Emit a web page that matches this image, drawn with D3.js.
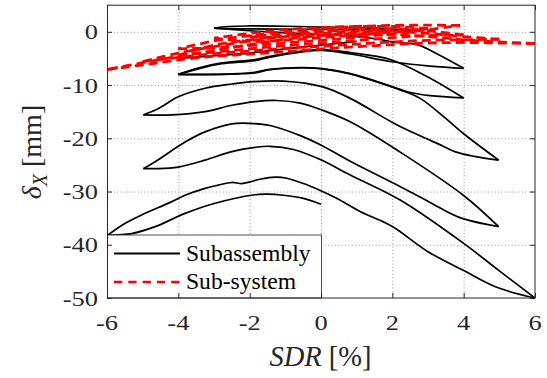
<!DOCTYPE html>
<html>
<head>
<meta charset="utf-8">
<script src="https://cdn.jsdelivr.net/npm/d3@7"></script>
<style>
  html, body { margin: 0; padding: 0; background: #fff; }
  svg { display: block; font-family: "Liberation Serif", "Times New Roman", serif; }
</style>
</head>
<body>
<svg id="chart" width="547" height="378"></svg>
<script>
// axis ticks
const xTicks = [-6, -4, -2, 0, 2, 4, 6];
const yTicks = [0, -10, -20, -30, -40, -50];

// Subassembly (black) branches, [SDR %, deltaX mm]
const subTopLoop = [[-3.0,0.7],[-2.6,1.0],[-2.0,1.1],[-1.0,1.05],[0,0.9],[1.0,0.75],[2.0,0.5],[2.8,0.2],
  [2.0,0.25],[1.0,0.35],[0,0.45],[-1.0,0.5],[-2.0,0.55],[-2.6,0.6],[-3.0,0.7]];
const subToR1 = [[-3.0,0.7],[-2.0,0.2],[-1.0,-0.2],[0,-0.5],[1.0,-0.9],[1.6,-1.4],[2.1,-2.0],[2.7,-2.4],[3.3,-4.3],[4.0,-6.86]];
const subMid = [[-4.0,-5.0],[-3.0,-4.5],[-2.0,-4.0],[-1.0,-3.2],[0,-2.5],[1.0,-1.8]];
const subR1Back = [[4.0,-6.86],[3.06,-6.43],[1.99,-5.62],[0.82,-4.17],[0.03,-3.5],[-0.58,-3.8],[-1.43,-4.74],
  [-1.85,-5.4],[-2.78,-6.0],[-3.44,-6.95],[-4.0,-8.0]];
const subToR2 = [[-4.0,-8.0],[-3.44,-6.8],[-2.78,-5.85],[-1.85,-5.2],[-1.43,-4.6],[-0.58,-3.65],[0.03,-3.35],
  [0.82,-3.9],[1.94,-5.2],[2.97,-8.4],[4.0,-12.45]];
const subR2Back = [[4.0,-12.4],[3.06,-12.0],[2.45,-11.3],[2.08,-10.5],[0.82,-7.9],[0.03,-6.95],[-0.58,-6.8],
  [-1.43,-7.1],[-1.85,-7.7],[-2.32,-7.9],[-3.25,-8.0],[-4.0,-8.0]];
const subToR5a = [[-4.0,-8.0],[-3.25,-8.05],[-2.32,-7.85],[-1.85,-7.6],[-1.43,-7.05],[-0.58,-6.7],[0.03,-6.9],
  [0.82,-7.85],[2.22,-10.9],[2.78,-12.5],[3.43,-15.9],[3.99,-19.1],[4.98,-24.1]];
const subR5aBack = [[4.98,-24.1],[4.3,-23.4],[3.75,-22.5],[3.3,-21.1],[2.9,-19.9],[2.08,-17.3],[0.82,-12.5],[0.03,-10.3],
  [-1.05,-9.25],[-1.99,-9.4],[-2.5,-9.8],[-3.25,-10.6],[-4.0,-12.2],[-4.56,-14.4],[-4.98,-15.6]];
const subToR5b = [[-4.98,-15.6],[-4.18,-15.6],[-3.25,-15.0],[-2.5,-13.8],[-1.85,-13.1],[-1.24,-12.9],[-0.58,-13.4],
  [0.03,-14.7],[0.82,-16.9],[2.22,-22.6],[3.99,-30.7],[4.98,-36.6]];
const subR5bBack = [[4.98,-36.6],[3.86,-34.8],[3.02,-31.9],[2.08,-28.6],[0.82,-24.3],[-0.02,-21.2],[-0.58,-19.5],
  [-1.43,-17.6],[-1.99,-17.2],[-2.5,-17.3],[-3.25,-18.8],[-3.81,-20.7],[-4.65,-24.4],[-4.98,-25.7]];
const subToR6 = [[-4.98,-25.7],[-4.65,-25.7],[-4.0,-25.4],[-3.25,-24.1],[-2.5,-22.5],[-1.85,-21.7],[-1.43,-21.5],
  [-0.77,-22.1],[-0.02,-24.0],[0.82,-26.9],[2.22,-31.6],[3.99,-39.7],[5.0,-44.9],[6.0,-50.0]];
const subR6Back = [[6.0,-50.0],[4.89,-47.9],[3.99,-44.8],[3.0,-41.3],[2.08,-36.9],[1.75,-35.7],[1.11,-33.8],
  [0.45,-31.3],[-0.02,-29.8],[-0.49,-28.5],[-0.96,-27.5],[-1.29,-27.3],[-1.71,-27.7],[-1.99,-28.2],[-2.22,-28.5],
  [-2.5,-28.3],[-2.88,-28.8],[-3.25,-29.4],[-3.81,-30.7],[-4.18,-31.9],[-4.56,-33.0],[-5.03,-34.4],[-5.5,-36.0],[-5.98,-38.2]];
const subFinal = [[-5.98,-38.2],[-5.31,-37.9],[-4.65,-36.6],[-3.81,-34.1],[-2.97,-32.2],[-1.85,-30.6],[-1.52,-30.5],
  [-1.05,-30.7],[-0.49,-31.3],[0.0,-32.4]];

// Sub-system (red dashed) loops: left tip -> right tip -> left tip
const sysLoop2 = [[-2,-0.9],[-1,-1.0],[0,-0.6],[1,-0.2],[2,0.2],[1,0.4],[0,0.2],[-1,-0.3],[-2,-0.9]];
const sysLoop3 = [[-3,-1.2],[-2,-1.8],[-1,-1.6],[0,-1.1],[1,-0.6],[2,0.0],[3,0.6],[2,1.0],[1,1.0],[0,0.8],[-1,0.4],[-2,-0.3],[-3,-1.2]];
const sysLoop4a = [[-4,-3.2],[-3,-3.0],[-2,-2.6],[-1,-2.1],[0,-1.6],[1,-1.0],[2,-0.4],[3,0.4],[3.9,1.2],
  [3,1.25],[2,1.2],[1,1.0],[0,0.6],[-1,0.0],[-2,-0.7],[-3,-1.7],[-4,-3.2]];
const sysLoop4b = [[-4,-4.4],[-3,-3.8],[-2,-3.2],[-1,-2.6],[0,-2.1],[1,-1.6],[2,-1.1],[3,-0.7],[4,-0.6],
  [3,0.2],[2,0.6],[1,0.5],[0,0.0],[-1,-0.7],[-2,-1.5],[-3,-2.5],[-4,-4.4]];
const sysLoop5 = [[-5,-5.6],[-4,-4.8],[-3,-4.1],[-2,-3.6],[-1,-3.1],[0,-2.7],[1,-2.3],[2,-1.9],[3,-1.6],[4,-1.5],[5,-1.4],
  [4,-0.9],[3,-0.3],[2,0.1],[1,0.1],[0,-0.3],[-1,-0.9],[-2,-1.7],[-3,-2.8],[-4,-4.0],[-5,-5.6]];
const sysLoop6 = [[-6,-7.1],[-5,-6.2],[-4,-5.3],[-3,-4.6],[-2,-4.2],[-1,-3.7],[0,-3.2],[1,-2.8],[2,-2.4],[3,-2.1],[4,-2.0],[5,-2.1],[6,-2.2],
  [5,-1.9],[4,-1.5],[3,-0.9],[2,-0.5],[1,-0.4],[0,-0.7],[-1,-1.4],[-2,-2.4],[-3,-3.5],[-4,-4.6],[-5,-5.8],[-6,-7.1]];

const subBranches = [subTopLoop, subToR1, subMid, subR1Back, subToR2, subR2Back, subToR5a, subR5aBack,
  subToR5b, subR5bBack, subToR6, subR6Back, subFinal];
const sysLoops = [sysLoop2, sysLoop3, sysLoop4a, sysLoop4b, sysLoop5, sysLoop6];

const legendNames = ['Subassembly', 'Sub-system'];

const pL = 107, pR = 535, pT = 5.2, pB = 298;
const axisColor = '#262626';
const stretch = 1.2; // tick labels in the figure are a bit wide

const svg = d3.select('#chart');

const x = d3.scaleLinear().domain([-6, 6]).range([pL, pR]);
const y = d3.scaleLinear().domain([-50, 5]).range([pB, pT]);

// split a loop at its right-most tip so both tips stay sharp
function splitAtTip(arr) {
  const i = d3.maxIndex(arr, d => d[0]);
  return [arr.slice(0, i + 1), arr.slice(i)];
}

const line = d3.line()
  .x(d => x(d[0]))
  .y(d => y(d[1]))
  .curve(d3.curveCatmullRom.alpha(0.5));

svg.append('defs').append('clipPath').attr('id', 'plotclip')
  .append('rect').attr('x', pL).attr('y', pT).attr('width', pR - pL).attr('height', pB - pT);

// grid
const grid = svg.append('g').attr('stroke', '#8a8a8a').attr('stroke-width', 0.9).attr('stroke-dasharray', '1,2.4');
grid.selectAll('.gx').data(xTicks.slice(1, -1)).join('line')
  .attr('x1', d => x(d) + 0.5).attr('x2', d => x(d) + 0.5).attr('y1', pT).attr('y2', pB);
grid.selectAll('.gy').data(yTicks.slice(0, -1)).join('line')
  .attr('y1', d => y(d) + 0.5).attr('y2', d => y(d) + 0.5).attr('x1', pL).attr('x2', pR);

const plot = svg.append('g').attr('clip-path', 'url(#plotclip)');

// black subassembly curves
subBranches.forEach(b => {
  const parts = b === subTopLoop ? splitAtTip(b) : [b];
  parts.forEach(p => plot.append('path')
    .attr('d', line(p)).attr('fill', 'none')
    .attr('stroke', '#000').attr('stroke-width', 1.7)
    .attr('stroke-linejoin', 'round'));
});

// red sub-system dashed curves
sysLoops.forEach(l => {
  splitAtTip(l).forEach(p => plot.append('path')
    .attr('d', line(p)).attr('fill', 'none')
    .attr('stroke', '#ff0000').attr('stroke-width', 2.8)
    .attr('stroke-dasharray', '9,5'));
});

// legend
const lg = svg.append('g');
lg.append('rect').attr('x', pL + 0.5).attr('y', 235).attr('width', 214).attr('height', pB - 235)
  .attr('fill', '#fff').attr('stroke', axisColor).attr('stroke-width', 0.8);
lg.append('line').attr('x1', 114).attr('x2', 180).attr('y1', 253.5).attr('y2', 253.5)
  .attr('stroke', '#000').attr('stroke-width', 1.9);
lg.append('line').attr('x1', 114).attr('x2', 180).attr('y1', 282).attr('y2', 282)
  .attr('stroke', '#ff0000').attr('stroke-width', 2.6).attr('stroke-dasharray', '8.3,6');
lg.selectAll('text').data(legendNames).join('text')
  .attr('x', 186).attr('y', (d, i) => 260.5 + i * 28.5)
  .attr('font-size', 23.6).attr('fill', '#000')
  .text(d => d);

// axes box and inward ticks
const ax = svg.append('g').attr('stroke', axisColor).attr('stroke-width', 1).attr('fill', 'none');
ax.append('rect').attr('x', pL + 0.5).attr('y', pT).attr('width', pR - pL - 0.5).attr('height', pB - pT);
const tl = 5;
xTicks.forEach(t => {
  ax.append('line').attr('x1', x(t) + 0.5).attr('x2', x(t) + 0.5).attr('y1', pB).attr('y2', pB - tl);
  ax.append('line').attr('x1', x(t) + 0.5).attr('x2', x(t) + 0.5).attr('y1', pT).attr('y2', pT + tl);
});
yTicks.forEach(t => {
  ax.append('line').attr('y1', y(t) + 0.5).attr('y2', y(t) + 0.5).attr('x1', pL).attr('x2', pL + tl);
  ax.append('line').attr('y1', y(t) + 0.5).attr('y2', y(t) + 0.5).attr('x1', pR).attr('x2', pR - tl);
});

// tick labels
svg.append('g').selectAll('text').data(xTicks).join('text')
  .attr('transform', d => `translate(${x(d)},330) scale(${stretch},1)`)
  .attr('text-anchor', 'middle').attr('font-size', 22).attr('fill', axisColor)
  .text(d => d);
svg.append('g').selectAll('text').data(yTicks).join('text')
  .attr('transform', d => `translate(98,${y(d) + 7.5}) scale(${stretch},1)`)
  .attr('text-anchor', 'end').attr('font-size', 22).attr('fill', axisColor)
  .text(d => d);

// axis labels
const xl = svg.append('text').attr('x', 320.5).attr('y', 366).attr('text-anchor', 'middle')
  .attr('font-size', 28.5).attr('fill', axisColor);
xl.append('tspan').attr('font-style', 'italic').text('SDR');
xl.append('tspan').text(' [%]');

const yl = svg.append('text').attr('transform', 'translate(41,152) rotate(-90)')
  .attr('text-anchor', 'middle').attr('font-size', 28).attr('fill', axisColor);
yl.append('tspan').attr('font-style', 'italic').text('δ');
yl.append('tspan').attr('font-style', 'italic').attr('font-size', 20).attr('dy', 5.5).text('X');
yl.append('tspan').attr('dy', -5.5).text(' [mm]');
</script>
</body>
</html>
